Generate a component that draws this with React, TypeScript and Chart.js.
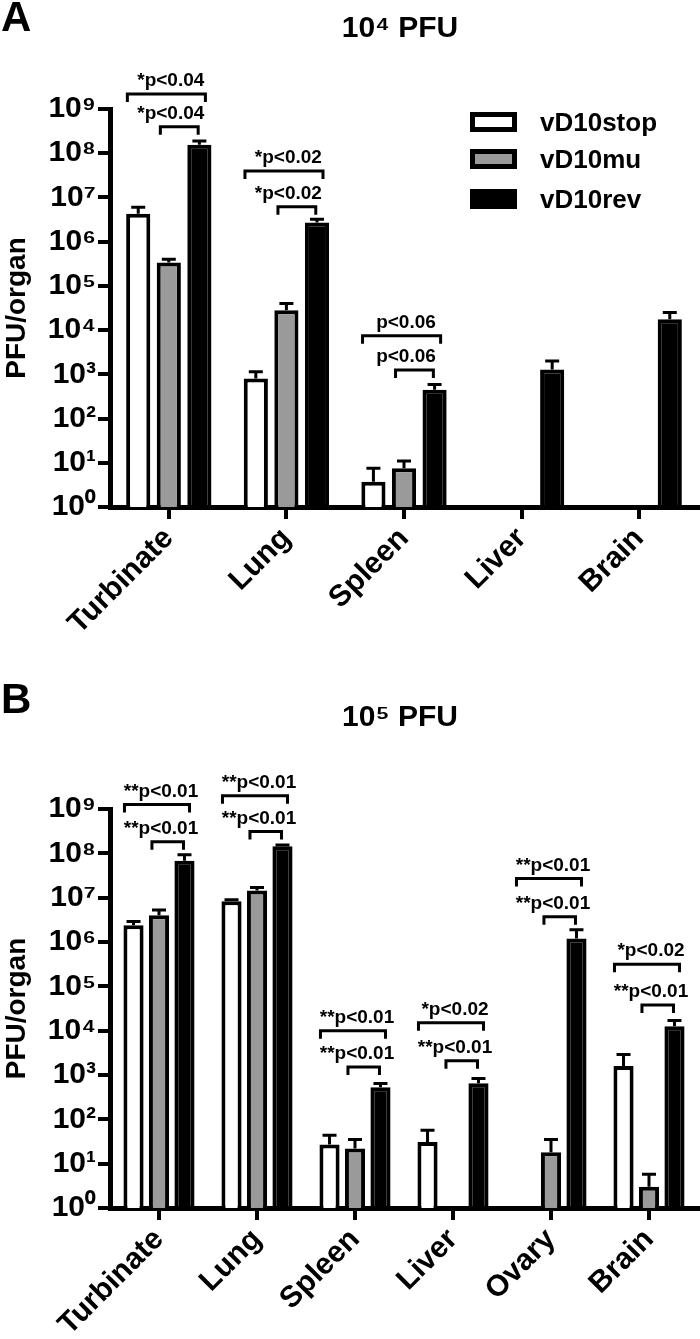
import React, { useEffect, useRef } from 'react';
import { Chart, registerables } from 'chart.js';

Chart.register(...registerables);

const FONT = "'Liberation Sans', Arial, Helvetica, sans-serif";

const seriesLabels = ['vD10stop', 'vD10mu', 'vD10rev'];
const seriesFill = ['#ffffff', '#9a9a9a', '#000000'];
const yTickExponents = [0, 1, 2, 3, 4, 5, 6, 7, 8, 9];

// Panel A: 10^4 PFU
const organsA = ['Turbinate', 'Lung', 'Spleen', 'Liver', 'Brain'];
const stopA = [4.3e6, 800, 3.7, null, null];
const stopErrA = [6.0e6, 1150, 7.5, null, null];
const muA = [3.4e5, 2.8e4, 7.5, null, null];
const muErrA = [4.0e5, 4.0e4, 11, null, null];
const revA = [1.55e8, 2.7e6, 450, 1280, 1.75e4];
const revErrA = [1.9e8, 3.2e6, 590, 2000, 2.5e4];

const bracketCatA = [0, 0, 1, 1, 2, 2];
const bracketFromA = [0, 1, 0, 1, 0, 1];
const bracketLevelA = [2.19e9, 3.98e8, 3.98e7, 6.17e6, 7.41e3, 1.26e3];
const bracketLabelA = ['*p<0.04', '*p<0.04', '*p<0.02', '*p<0.02', 'p<0.06', 'p<0.06'];

// Panel B: 10^5 PFU
const organsB = ['Turbinate', 'Lung', 'Spleen', 'Liver', 'Ovary', 'Brain'];
const stopB = [2.4e6, 8.3e6, 27, 31, null, 1600];
const stopErrB = [2.9e6, 9.0e6, 44, 57, null, 2900];
const muB = [4.0e6, 1.45e7, 22, null, 18, 3];
const muErrB = [5.3e6, 1.7e7, 35, null, 35, 5.8];
const revB = [6.8e7, 1.45e8, 530, 650, 1.2e6, 1.25e4];
const revErrB = [9.3e7, 1.55e8, 640, 830, 1.9e6, 1.7e4];

const bracketCatB = [0, 0, 1, 1, 2, 2, 3, 3, 4, 4, 5, 5];
const bracketFromB = [0, 1, 0, 1, 0, 1, 0, 1, 0, 1, 0, 1];
const bracketLevelB = [1.26e9, 1.82e8, 2.0e9, 3.09e8, 1.0e4, 1.51e3, 1.51e4, 2.09e3, 2.69e7, 3.72e6, 3.16e5, 3.8e4];
const bracketLabelB = [
  '**p<0.01', '**p<0.01', '**p<0.01', '**p<0.01', '**p<0.01', '**p<0.01',
  '*p<0.02', '**p<0.01', '**p<0.01', '**p<0.01', '*p<0.02', '**p<0.01',
];

const SUP: Record<string, string> = {
  '0': '\u2070', '1': '\u00b9', '2': '\u00b2', '3': '\u00b3', '4': '\u2074',
  '5': '\u2075', '6': '\u2076', '7': '\u2077', '8': '\u2078', '9': '\u2079',
};
const sup = (n: number) => String(n).split('').map((c) => SUP[c] || c).join('');

const CAT_PCT = 0.78;
const BAR_PCT = 0.79;

type PanelProps = {
  letter: string;
  title: string;
  organs: string[];
  values: (number | null)[][];
  errors: (number | null)[][];
  bCat: number[];
  bFrom: number[];
  bLevel: number[];
  bLabel: string[];
  legend: boolean;
  height: number;
  plotTop: number;
  plotBottom: number;
  letterY: number;
  titleY: number;
};

function Panel(p: PanelProps) {
  const ref = useRef<HTMLCanvasElement | null>(null);
  useEffect(() => {
    if (!ref.current) return;
    const annot = {
      id: 'annot',
      afterDatasetsDraw(chart: any) {
        const ctx = chart.ctx;
        const y = chart.scales.y;
        const x = chart.scales.x;
        ctx.save();
        // error bars
        chart.data.datasets.forEach((ds: any, di: number) => {
          const meta = chart.getDatasetMeta(di);
          meta.data.forEach((el: any, j: number) => {
            const v = ds.data[j];
            const e = ds.errorTops[j];
            if (v == null || e == null) return;
            const yt = el.y;
            const ye = y.getPixelForValue(e);
            ctx.strokeStyle = '#000';
            ctx.lineWidth = 3;
            ctx.beginPath();
            ctx.moveTo(el.x, yt);
            ctx.lineTo(el.x, ye);
            ctx.moveTo(el.x - 7, ye);
            ctx.lineTo(el.x + 7, ye);
            ctx.stroke();
          });
        });
        // brackets
        const catW = x.width / p.organs.length;
        const slot = (catW * CAT_PCT) / 3;
        const bw = slot * BAR_PCT;
        for (let i = 0; i < p.bCat.length; i++) {
          const c = x.getPixelForValue(p.bCat[i]);
          const by = y.getPixelForValue(p.bLevel[i]);
          let x1: number, x2: number;
          if (p.bFrom[i] === 0) {
            x1 = c - slot - bw * 0.45;
            x2 = c + slot + bw * 0.25;
          } else {
            x1 = c - bw * 0.35;
            x2 = c + slot - bw * 0.05;
          }
          ctx.strokeStyle = '#000';
          ctx.lineWidth = 3;
          ctx.lineJoin = 'miter';
          ctx.beginPath();
          ctx.moveTo(x1, by + 8);
          ctx.lineTo(x1, by);
          ctx.lineTo(x2, by);
          ctx.lineTo(x2, by + 8);
          ctx.stroke();
          ctx.fillStyle = '#000';
          ctx.font = `bold 19px ${FONT}`;
          ctx.textAlign = 'center';
          ctx.textBaseline = 'alphabetic';
          ctx.fillText(p.bLabel[i], c + 2, by - 8);
        }
        ctx.restore();
      },
      afterDraw(chart: any) {
        const ctx = chart.ctx;
        ctx.save();
        ctx.fillStyle = '#000';
        ctx.font = `bold 42px ${FONT}`;
        ctx.textAlign = 'left';
        ctx.textBaseline = 'middle';
        ctx.fillText(p.letter, 1, p.letterY);
        ctx.font = `bold 30px ${FONT}`;
        ctx.textAlign = 'center';
        ctx.fillText(p.title, 400, p.titleY);
        if (p.legend) {
          const ys = [122, 159, 199];
          chart.data.datasets.forEach((ds: any, i: number) => {
            const yy = ys[i];
            ctx.fillStyle = '#000';
            ctx.fillRect(470, yy - 10, 47, 20);
            if (i < 2) {
              ctx.fillStyle = ds.backgroundColor;
              ctx.fillRect(475, yy - 5, 37, 10);
            }
            ctx.fillStyle = '#000';
            ctx.font = `bold 26px ${FONT}`;
            ctx.textAlign = 'left';
            ctx.textBaseline = 'middle';
            ctx.fillText(ds.label, 540, yy + 2);
          });
        }
        ctx.restore();
      },
    };

    const chart = new Chart(ref.current, {
      type: 'bar',
      data: {
        labels: p.organs,
        datasets: p.values.map((vals, i) => ({
          label: seriesLabels[i],
          data: vals,
          errorTops: p.errors[i],
          backgroundColor: seriesFill[i],
          borderColor: '#000000',
          borderWidth: 4,
          categoryPercentage: CAT_PCT,
          barPercentage: BAR_PCT,
        })) as any,
      },
      options: {
        responsive: false,
        animation: false,
        events: [],
        layout: { padding: { top: p.plotTop, right: 2, left: 0, bottom: 0 } },
        plugins: { legend: { display: false }, tooltip: { enabled: false }, title: { display: false } },
        scales: {
          x: {
            offset: true,
            grid: { display: true, drawOnChartArea: false, drawTicks: true, tickLength: 12, lineWidth: 4, color: '#000', offset: false },
            border: { display: true, width: 5, color: '#000' },
            ticks: {
              autoSkip: false,
              maxRotation: 45,
              minRotation: 45,
              padding: 2,
              color: '#000',
              font: { family: FONT, size: 30, weight: 'bold' },
            },
            afterFit: (s: any) => { s.height = p.height - p.plotBottom; },
          },
          y: {
            type: 'logarithmic',
            min: 1,
            max: 1e9,
            grid: { display: true, drawOnChartArea: false, drawTicks: true, tickLength: 12, lineWidth: 4, color: '#000' },
            border: { display: true, width: 5, color: '#000' },
            afterBuildTicks: (s: any) => {
              s.ticks = yTickExponents.map((e) => ({ value: Math.pow(10, e) }));
            },
            ticks: {
              padding: 2,
              color: '#000',
              font: { family: FONT, size: 30, weight: 'bold' },
              callback: (v: any) => '10' + sup(Math.round(Math.log10(Number(v)))),
            },
            title: {
              display: true,
              text: 'PFU/organ',
              color: '#000',
              padding: { top: 0, bottom: 0 },
              font: { family: FONT, size: 28, weight: 'bold' },
            },
            afterFit: (s: any) => { s.width = 110; },
          },
        },
      } as any,
      plugins: [annot],
    });
    return () => chart.destroy();
  }, []);
  return <canvas ref={ref} width={700} height={p.height} style={{ display: 'block', width: 700, height: p.height }} />;
}

export default function App() {
  return (
    <div style={{ position: 'absolute', top: 0, left: 0, width: 700, height: 1339, background: '#fff' }}>
      <Panel
        letter="A"
        title={'10' + sup(4) + ' PFU'}
        organs={organsA}
        values={[stopA, muA, revA]}
        errors={[stopErrA, muErrA, revErrA]}
        bCat={bracketCatA}
        bFrom={bracketFromA}
        bLevel={bracketLevelA}
        bLabel={bracketLabelA}
        legend={true}
        height={665}
        plotTop={109}
        plotBottom={507}
        letterY={19}
        titleY={29}
      />
      <Panel
        letter="B"
        title={'10' + sup(5) + ' PFU'}
        organs={organsB}
        values={[stopB, muB, revB]}
        errors={[stopErrB, muErrB, revErrB]}
        bCat={bracketCatB}
        bFrom={bracketFromB}
        bLevel={bracketLevelB}
        bLabel={bracketLabelB}
        legend={false}
        height={674}
        plotTop={144}
        plotBottom={543}
        letterY={36}
        titleY={53}
      />
    </div>
  );
}
